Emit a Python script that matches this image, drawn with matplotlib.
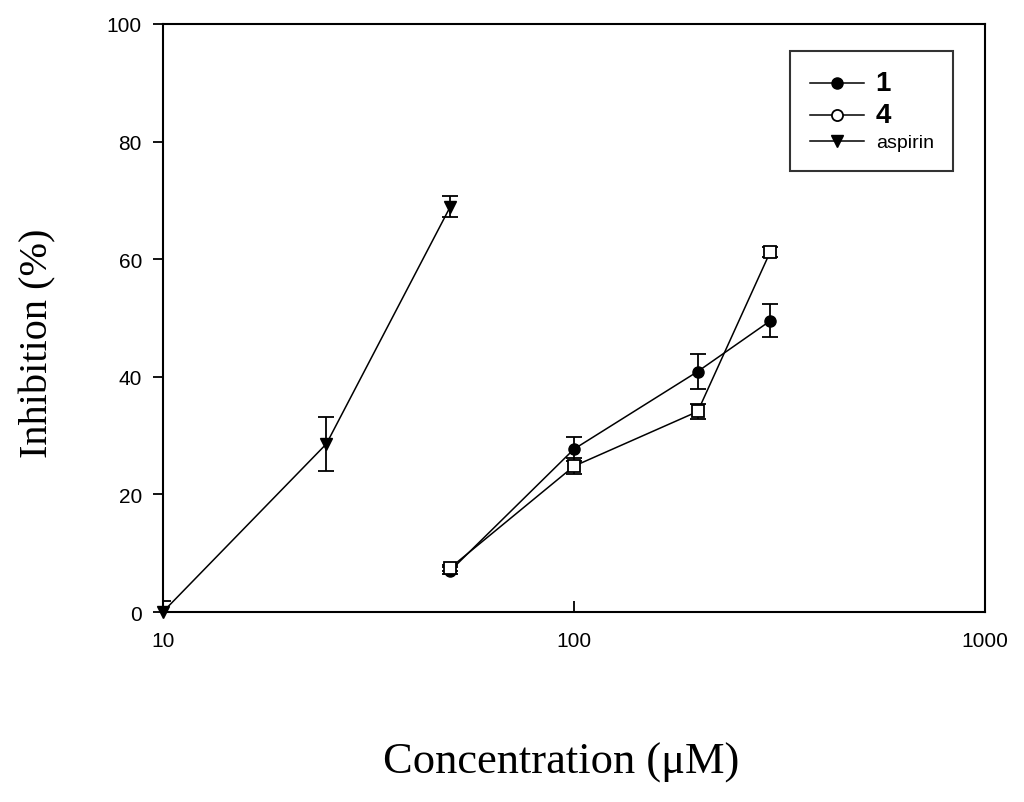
import numpy as np
import matplotlib.pyplot as plt
from matplotlib.lines import Line2D
from matplotlib.ticker import FixedLocator, NullLocator, FixedFormatter

# data
conc_1 = [50, 100, 200, 300]
inh_1 = [7.0, 27.7, 40.9, 49.5]
err_1 = [0.6, 2.1, 3.0, 2.8]

conc_4 = [50, 100, 200, 300]
inh_4 = [7.5, 24.8, 34.1, 61.2]
err_4 = [0.5, 1.4, 1.3, 0.8]

conc_asp = [10, 25, 50]
inh_asp = [0.0, 28.6, 68.9]
err_asp = [1.9, 4.6, 1.8]

fig = plt.figure(figsize=(10.24, 8.03), dpi=100)
ax = fig.add_axes([0.159, 0.2366, 0.803, 0.7323])

kw = dict(color='black', lw=1.1, capsize=6, elinewidth=1.3, capthick=1.3, ms=8)
eb1 = ax.errorbar(conc_1, inh_1, yerr=err_1, marker='o', mfc='black', mec='black', **kw)
eb4 = ax.errorbar(conc_4, inh_4, yerr=err_4, marker='s', mfc='white', mec='black', mew=1.3, **kw)
eba = ax.errorbar(conc_asp, inh_asp, yerr=err_asp, marker='v', mfc='black', mec='black', **kw)
for eb in (eb1, eb4, eba):
    eb[0].set_clip_on(False)

ax.set_xscale('log')
ax.set_xlim(10, 1000)
ax.set_ylim(0, 100)
ax.xaxis.set_major_locator(FixedLocator([10, 100, 1000]))
ax.xaxis.set_major_formatter(FixedFormatter(['10', '100', '1000']))
ax.xaxis.set_minor_locator(NullLocator())
ax.set_yticks([0, 20, 40, 60, 80, 100])

for s in ax.spines.values():
    s.set_linewidth(1.5)
ax.tick_params(axis='x', direction='in', length=8, width=1.3, labelsize=15, pad=14)
ax.tick_params(axis='y', direction='out', length=7, width=1.3, labelsize=15, pad=8)
for lab in ax.get_xticklabels() + ax.get_yticklabels():
    lab.set_family(['Liberation Sans', 'DejaVu Sans'])

fig.text(0.548, 0.050, 'Concentration (\u03bcM)', family='Liberation Serif',
         fontsize=32, ha='center', va='center')
fig.text(0.037, 0.572, 'Inhibition (%)', family='Liberation Serif',
         fontsize=29, ha='center', va='center', rotation=90)

handles = [
    Line2D([], [], color='black', lw=1.1, marker='o', mfc='black', ms=8),
    Line2D([], [], color='black', lw=1.1, marker='o', mfc='white', mew=1.3, ms=8),
    Line2D([], [], color='black', lw=1.1, marker='v', mfc='black', ms=8),
]
leg = ax.legend(handles, ['1', '4', 'aspirin'], loc='upper right',
                bbox_to_anchor=(0.973, 0.971), frameon=True, fancybox=False,
                edgecolor='black', handlelength=2.8, borderpad=1.0,
                labelspacing=0.3, handletextpad=0.6,
                prop={'family': 'Liberation Sans', 'size': 14})
leg.get_frame().set_linewidth(1.5)
for t in leg.get_texts()[:2]:
    t.set_fontweight('bold')
    t.set_fontsize(20)

fig.savefig('out.png', dpi=100)
